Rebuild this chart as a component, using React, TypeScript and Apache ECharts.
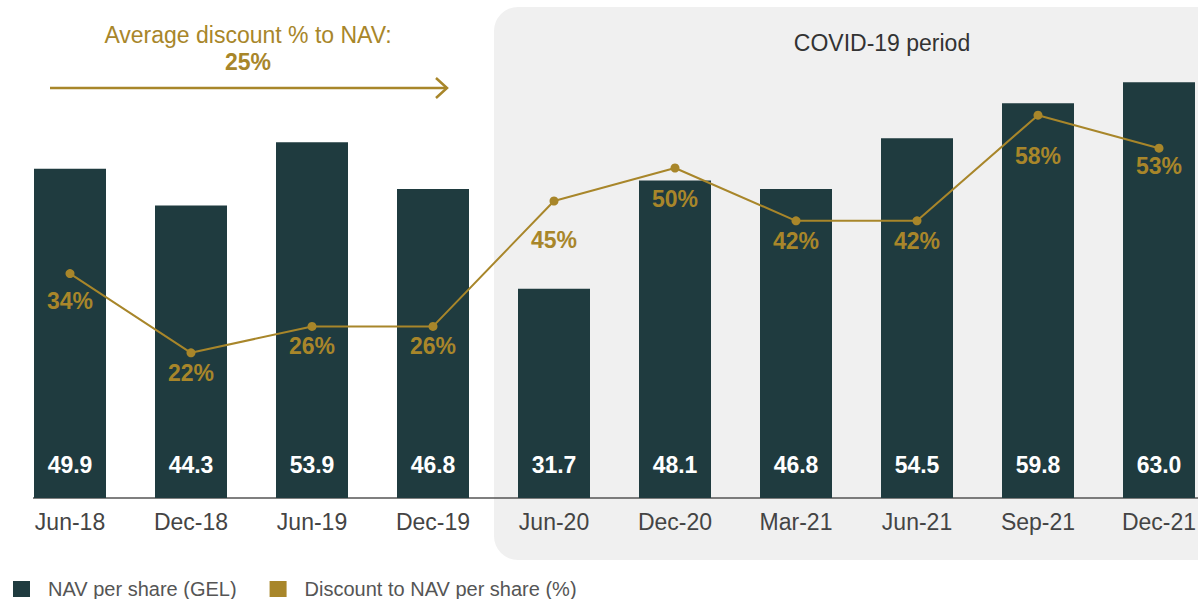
import React, { useEffect, useRef } from "react";
import * as echarts from "echarts";

const categories = ["Jun-18", "Dec-18", "Jun-19", "Dec-19", "Jun-20", "Dec-20", "Mar-21", "Jun-21", "Sep-21", "Dec-21"];
const navPerShare = [49.9, 44.3, 53.9, 46.8, 31.7, 48.1, 46.8, 54.5, 59.8, 63.0];
const discountPct = [34, 22, 26, 26, 45, 50, 42, 42, 58, 53];
const discountLabelGap = [11, 4, 4, 4, 23, 15, 4, 4, 25, 2];

const NAVY = "#1F3B3F";
const GOLD = "#A8862A";
const FONT = "'Liberation Sans', Arial, Helvetica, sans-serif";

export default function App() {
  const ref = useRef<HTMLDivElement>(null);
  useEffect(() => {
    document.body.style.margin = "0";
    if (!ref.current) return;
    const chart = echarts.init(ref.current, undefined, { renderer: "svg" });
    chart.setOption({
      animation: false,
      textStyle: { fontFamily: FONT },
      grid: { left: 9.5, right: 0.5, top: 36, bottom: 101, containLabel: false },
      legend: {
        left: 8,
        top: 574,
        itemWidth: 17,
        itemHeight: 16,
        itemGap: 33,
        textStyle: { fontFamily: FONT, fontSize: 20, color: "#555", padding: [0, 0, 0, 13] },
        data: [
          { name: "NAV per share (GEL)", icon: "rect", itemStyle: { color: NAVY } },
          { name: "Discount to NAV per share (%)", icon: "rect", itemStyle: { color: GOLD } },
        ],
      },
      xAxis: {
        type: "category",
        data: categories,
        axisLine: { show: false },
        axisTick: { show: false },
        axisLabel: { color: "#444", fontSize: 23, fontFamily: FONT, margin: 12.5 },
      },
      yAxis: {
        type: "value",
        min: 0,
        max: 70,
        show: false,
        splitLine: { show: false },
      },
      graphic: [
        {
          type: "rect",
          z: -10,
          shape: { x: 494, y: 7, width: 780, height: 553, r: 24 },
          style: { fill: "#F0F0F0" },
        },
        {
          type: "text",
          x: 882,
          y: 43,
          style: { text: "COVID-19 period", fill: "#333", font: `23px ${FONT}`, textAlign: "center", textVerticalAlign: "middle" },
        },
        {
          type: "text",
          x: 248,
          y: 35,
          style: { text: "Average discount % to NAV:", fill: GOLD, font: `23px ${FONT}`, textAlign: "center", textVerticalAlign: "middle" },
        },
        {
          type: "text",
          x: 248,
          y: 62,
          style: { text: "25%", fill: GOLD, font: `bold 23px ${FONT}`, textAlign: "center", textVerticalAlign: "middle" },
        },
        {
          type: "line",
          shape: { x1: 50, y1: 88, x2: 447, y2: 88 },
          style: { stroke: GOLD, lineWidth: 2.5 },
        },
        {
          type: "polyline",
          shape: { points: [[436, 78], [447, 88], [436, 98]] },
          style: { stroke: GOLD, lineWidth: 2.5, fill: "none" },
        },
        {
          type: "line",
          shape: { x1: 33, y1: 498, x2: 1230, y2: 498 },
          style: { stroke: "#555", lineWidth: 1.5 },
        },
      ],
      series: [
        {
          name: "NAV per share (GEL)",
          type: "bar",
          data: navPerShare,
          barWidth: 72,
          itemStyle: { color: NAVY },
          label: {
            show: true,
            position: "insideBottom",
            distance: 21.5,
            color: "#fff",
            fontSize: 23,
            fontWeight: "bold",
            fontFamily: FONT,
            formatter: (p: any) => Number(p.value).toFixed(1),
          },
        },
        {
          name: "Discount to NAV per share (%)",
          type: "line",
          data: discountPct.map((v, i) => ({
            value: v,
            label: { distance: discountLabelGap[i] },
          })),
          symbol: "circle",
          symbolSize: 9,
          lineStyle: { color: GOLD, width: 2 },
          itemStyle: { color: GOLD },
          z: 5,
          label: {
            show: true,
            position: "bottom",
            color: GOLD,
            fontSize: 23,
            fontWeight: "bold",
            fontFamily: FONT,
            formatter: (p: any) => `${p.value}%`,
          },
        },
      ],
    });
    return () => chart.dispose();
  }, []);
  return (
    <div style={{ width: 1198, height: 599, overflow: "hidden", position: "relative" }}>
      <div ref={ref} style={{ width: 1220, height: 599 }} />
    </div>
  );
}
